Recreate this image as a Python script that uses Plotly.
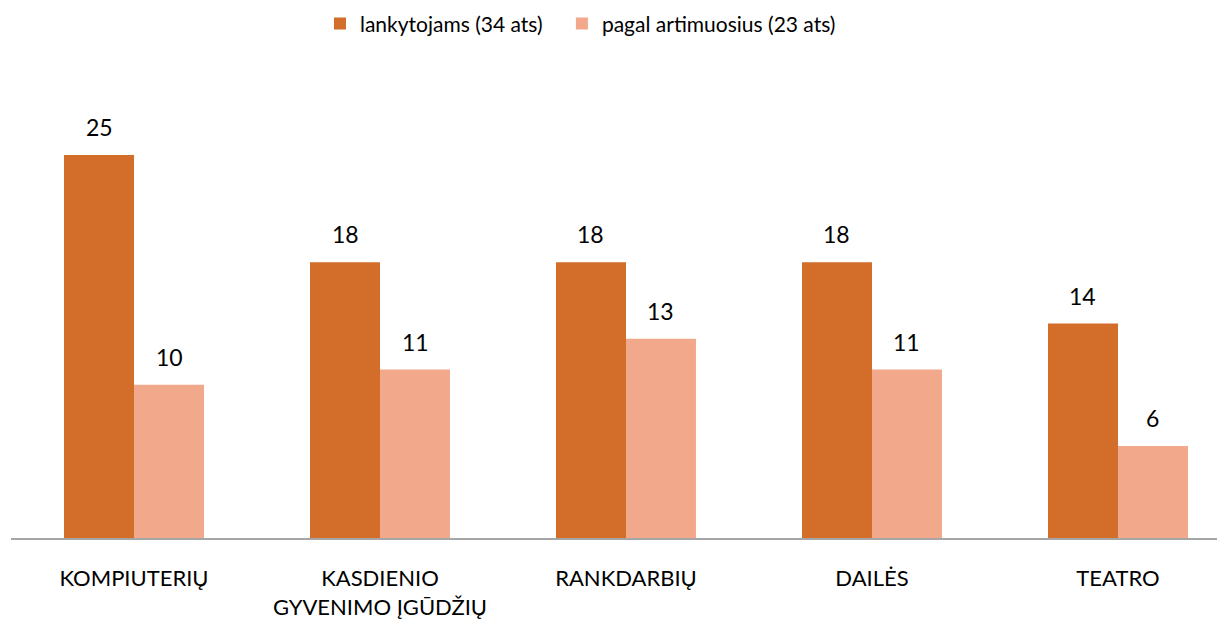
import plotly.graph_objects as go

categories = ["KOMPIUTERIŲ", "KASDIENIO<br>GYVENIMO ĮGŪDŽIŲ", "RANKDARBIŲ", "DAILĖS", "TEATRO"]
series_names = ["lankytojams (34 ats)", "pagal artimuosius (23 ats)"]
lankytojams = [25, 18, 18, 18, 14]
artimuosius = [10, 11, 13, 11, 6]
colors = ["#D26D2A", "#F2A98B"]

FONT = "Lato"
FS = 23
fig = go.Figure()
for name, vals, col, lg in zip(series_names, [lankytojams, artimuosius], colors,
                               ["legend", "legend2"]):
    fig.add_trace(go.Bar(x=list(range(len(categories))), y=vals, name=name,
                         marker=dict(color=col, line=dict(width=0)),
                         legend=lg, showlegend=True, hoverinfo="y"))

annotations = []
for vals, shift in [(lankytojams, -35), (artimuosius, 35)]:
    for i, v in enumerate(vals):
        annotations.append(dict(x=i, y=v, xref="x", yref="y", text=str(v),
                                showarrow=False, xshift=shift, yshift=12,
                                yanchor="bottom",
                                font=dict(family=FONT, size=FS, color="#000000")))

legend_common = dict(orientation="h", xanchor="left",
                     y=0.974, yanchor="middle", yref="container",
                     font=dict(family=FONT, size=21, color="#000000"),
                     bgcolor="rgba(0,0,0,0)", visible=True,
                     itemwidth=30)

fig.update_layout(
    width=1217, height=611,
    margin=dict(l=3, r=0, t=72, b=81),
    paper_bgcolor="white", plot_bgcolor="white",
    showlegend=True,
    barmode="group", bargap=0.431, bargroupgap=0,
    font=dict(family=FONT, size=FS, color="#000000"),
    legend=dict(x=0.2545, **legend_common),
    legend2=dict(x=0.4538, **legend_common),
    annotations=annotations,
    xaxis=dict(range=[-0.5, 4.435], tickmode="array",
               tickvals=list(range(len(categories))), ticktext=categories,
               showline=True, linecolor="#A6A6A6", linewidth=1.5,
               ticks="", showgrid=False, zeroline=False, automargin=False,
               ticklabelstandoff=20,
               tickfont=dict(family=FONT, size=22, color="#000000")),
    yaxis=dict(range=[0, 29.9], visible=False, showgrid=False, zeroline=False,
               automargin=False),
)

fig.write_html("out.html")
